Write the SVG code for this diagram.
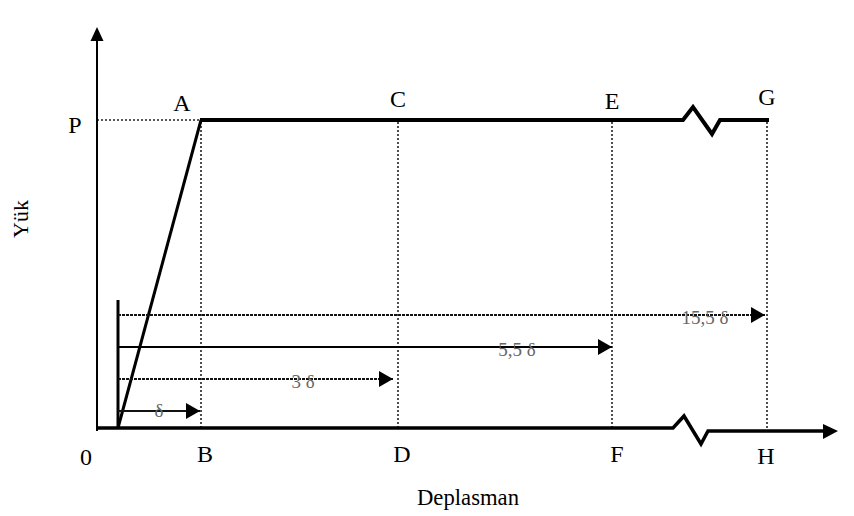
<svg xmlns="http://www.w3.org/2000/svg" width="854" height="516" viewBox="0 0 854 516">
<defs>
<style>
.lbl{font-family:"Liberation Serif","Times New Roman",serif;font-size:24px;fill:#000;text-anchor:middle}
.dl{font-family:"Liberation Serif","Times New Roman",serif;font-size:19px;fill:#666;text-anchor:middle}
.dot{stroke:#222;stroke-width:1.6;stroke-dasharray:2 2;fill:none}
.thick{stroke:#000;fill:none;stroke-linejoin:miter}
.ah{fill:#000}
</style>
<marker id="arr" markerUnits="userSpaceOnUse" markerWidth="15" markerHeight="16" refX="14" refY="8" orient="auto">
<path d="M0,0 L14,8 L0,16 Z" class="ah"/>
</marker>
</defs>
<rect width="854" height="516" fill="#fff"/>
<g id="connectors">
<line class="dot" x1="97" y1="120" x2="200" y2="120" stroke-width="3"/>
<line class="dot" x1="201" y1="122" x2="201" y2="428"/>
<line class="dot" x1="398" y1="122" x2="398" y2="428"/>
<line class="dot" x1="612" y1="122" x2="612" y2="428"/>
<line class="dot" x1="767" y1="122" x2="767" y2="431"/>
<line x1="97" y1="431" x2="97" y2="40" stroke="#000" stroke-width="2"/>
<polygon points="97,27 90.5,41 103.5,41" class="ah"/>
<polyline class="thick" stroke-width="3.5" points="96,428 673,428 684,416 701,444 708,431 824,431"/>
<polygon points="838,431 823,424 823,439" class="ah"/>
<line x1="118" y1="300" x2="118" y2="429" stroke="#000" stroke-width="3"/>
<line x1="118" y1="428" x2="201" y2="120" stroke="#000" stroke-width="3"/>
<polyline class="thick" stroke-width="4" points="200,120 683,120 693,107 712,134 720,120 769,120"/>
<line x1="118" y1="315" x2="765" y2="315" stroke="#111" stroke-width="2" stroke-dasharray="3 1" marker-end="url(#arr)"/>
<line x1="118" y1="347" x2="612" y2="347" stroke="#000" stroke-width="2.2" marker-end="url(#arr)"/>
<line x1="118" y1="379" x2="393" y2="379" stroke="#111" stroke-width="2" stroke-dasharray="3 1" marker-end="url(#arr)"/>
<line x1="118" y1="411" x2="200" y2="411" stroke="#111" stroke-width="1.8" marker-end="url(#arr)"/>
</g>
<g id="label-P"><text class="lbl" x="75" y="133">P</text></g>
<g id="label-A"><text class="lbl" x="182" y="111">A</text></g>
<g id="label-C"><text class="lbl" x="398" y="107">C</text></g>
<g id="label-E"><text class="lbl" x="612" y="109">E</text></g>
<g id="label-G"><text class="lbl" x="767" y="105">G</text></g>
<g id="label-0"><text class="lbl" x="86" y="465">0</text></g>
<g id="label-B"><text class="lbl" x="205" y="462">B</text></g>
<g id="label-D"><text class="lbl" x="402" y="462">D</text></g>
<g id="label-F"><text class="lbl" x="617" y="462">F</text></g>
<g id="label-H"><text class="lbl" x="766" y="464">H</text></g>
<g id="label-d1"><text class="dl" x="159" y="417">δ</text></g>
<g id="label-d3"><text class="dl" x="303" y="388">3 δ</text></g>
<g id="label-d55"><text class="dl" x="517" y="356">5,5 δ</text></g>
<g id="label-d155"><text class="dl" x="705" y="324">15,5 δ</text></g>
<g id="label-yuk"><text class="lbl" x="0" y="0" transform="translate(28,219) rotate(-90)" style="font-size:22px">Yük</text></g>
<g id="label-deplasman"><text class="lbl" x="468" y="505" textLength="102" lengthAdjust="spacingAndGlyphs">Deplasman</text></g>
</svg>
